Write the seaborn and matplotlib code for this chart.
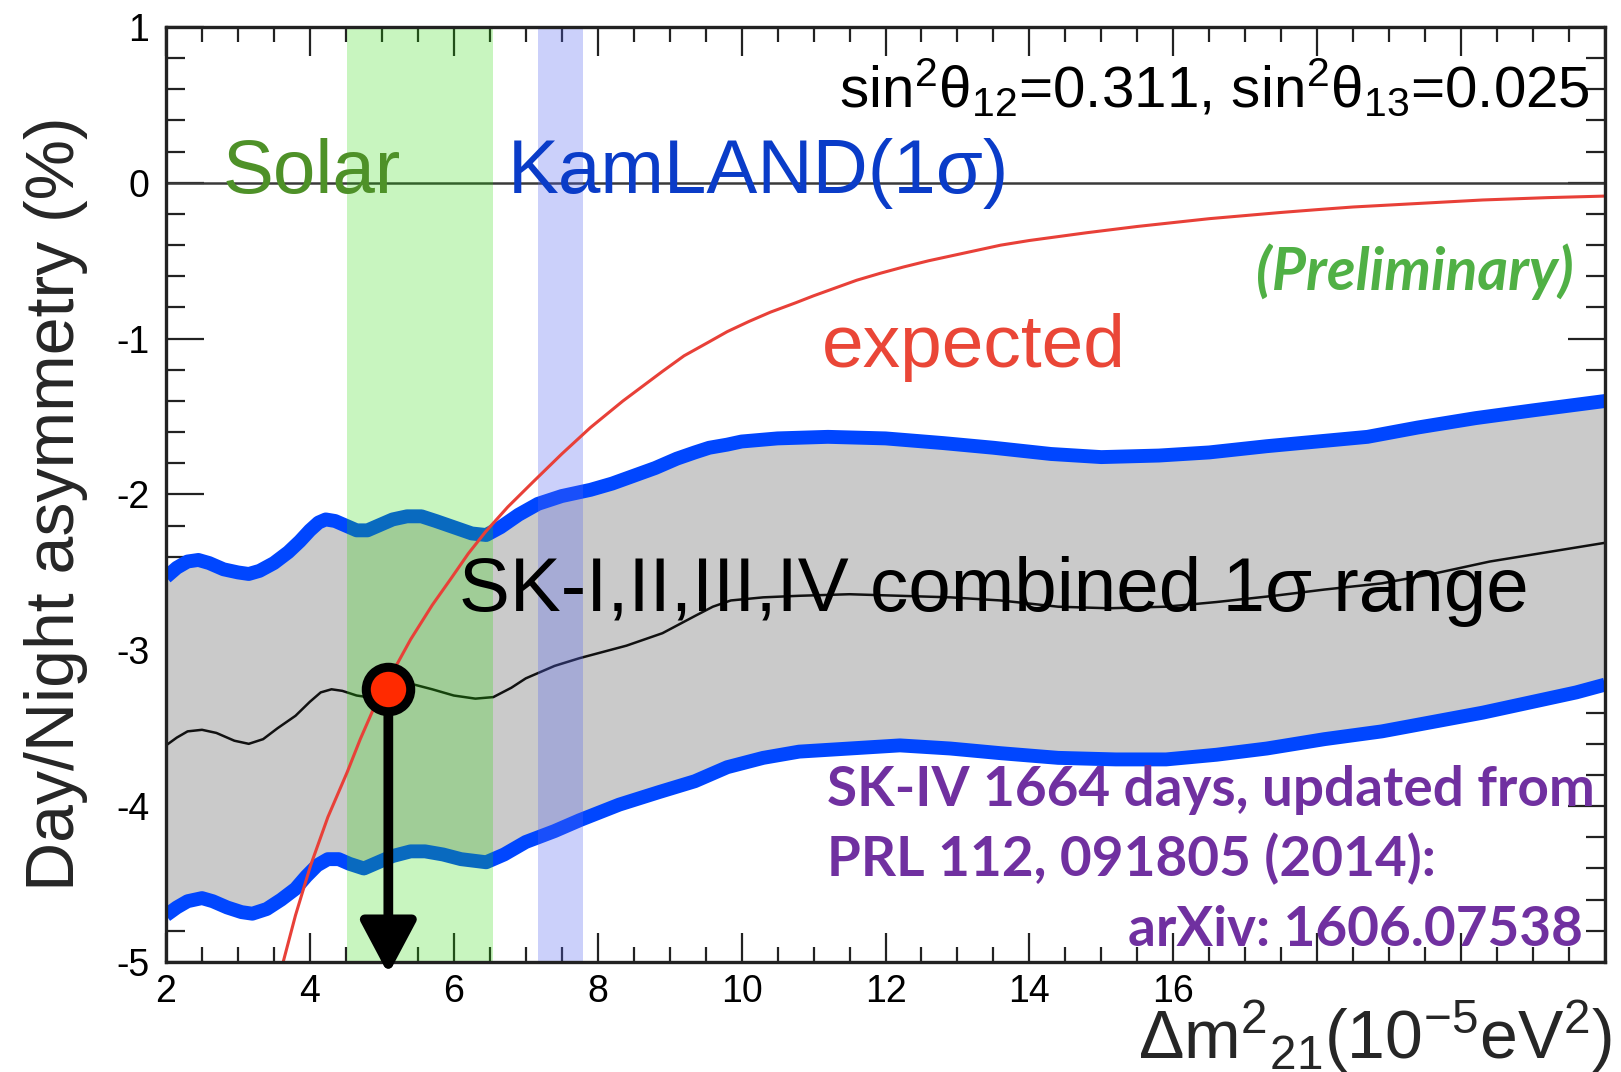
import numpy as np
import matplotlib
matplotlib.use("Agg")
import matplotlib.pyplot as plt
import seaborn as sns
from matplotlib.ticker import MultipleLocator

# ---------------- data ----------------
upper_x = [2.0, 2.15, 2.3, 2.45, 2.6, 2.8, 3.0, 3.15, 3.3, 3.5, 3.7, 3.86, 4.0, 4.12, 4.22,
           4.35, 4.5, 4.65, 4.8, 4.95, 5.15, 5.35, 5.55, 5.75, 6.0, 6.25, 6.45, 6.65, 6.9,
           7.17, 7.5, 7.9, 8.2, 8.5, 8.8, 9.1, 9.35, 9.55, 9.8, 10.0, 10.5, 11.2, 12.0,
           12.8, 13.5, 14.3, 15.0, 15.8, 16.5, 17.3, 18.0, 18.7, 19.4, 20.2, 21.0, 21.5, 22.0]
upper_y = [-2.53, -2.47, -2.43, -2.42, -2.44, -2.48, -2.50, -2.51, -2.49, -2.44, -2.37, -2.30,
           -2.23, -2.18, -2.16, -2.17, -2.20, -2.23, -2.23, -2.20, -2.16, -2.14, -2.14, -2.17,
           -2.21, -2.25, -2.26, -2.21, -2.13, -2.06, -2.01, -1.97, -1.93, -1.88, -1.83, -1.77,
           -1.73, -1.70, -1.68, -1.66, -1.64, -1.63, -1.64, -1.67, -1.70, -1.74, -1.76, -1.75,
           -1.73, -1.69, -1.66, -1.63, -1.57, -1.51, -1.46, -1.43, -1.40]

lower_x = [2.0, 2.15, 2.3, 2.5, 2.65, 2.85, 3.05, 3.2, 3.4, 3.6, 3.8, 3.95, 4.1, 4.25, 4.4,
           4.55, 4.75, 4.95, 5.15, 5.4, 5.6, 5.85, 6.1, 6.45, 6.7, 7.0, 7.4, 7.75, 8.3, 8.85,
           9.35, 9.8, 10.3, 10.8, 11.5, 12.2, 12.9, 13.6, 14.4, 15.2, 15.9, 16.6, 17.3, 18.1,
           18.9, 19.6, 20.3, 21.0, 21.6, 22.0]
lower_y = [-4.70, -4.65, -4.61, -4.59, -4.61, -4.65, -4.68, -4.69, -4.66, -4.60, -4.53, -4.45,
           -4.38, -4.34, -4.34, -4.37, -4.40, -4.36, -4.32, -4.29, -4.29, -4.31, -4.34, -4.36,
           -4.31, -4.23, -4.16, -4.09, -3.99, -3.91, -3.84, -3.75, -3.69, -3.65, -3.63, -3.61,
           -3.63, -3.66, -3.69, -3.70, -3.70, -3.67, -3.63, -3.57, -3.52, -3.46, -3.40, -3.33,
           -3.27, -3.22]

center_x = [2.0, 2.15, 2.3, 2.5, 2.7, 2.95, 3.15, 3.35, 3.55, 3.8, 4.0, 4.15, 4.3, 4.45,
            4.65, 4.8, 5.0, 5.2, 5.45, 5.7, 6.0, 6.3, 6.55, 6.8, 7.0, 7.4, 7.75, 8.4, 8.9,
            9.35, 9.6, 9.85, 10.3, 10.8, 11.5, 12.2, 12.9, 13.6, 14.4, 15.1, 15.9, 16.6, 17.4,
            18.1, 18.9, 19.6, 20.4, 21.2, 22.0]
center_y = [-3.61, -3.56, -3.52, -3.51, -3.53, -3.58, -3.60, -3.57, -3.50, -3.42, -3.33,
            -3.27, -3.25, -3.26, -3.29, -3.30, -3.27, -3.24, -3.22, -3.25, -3.29, -3.31,
            -3.30, -3.24, -3.18, -3.10, -3.05, -2.97, -2.89, -2.78, -2.72, -2.68, -2.66,
            -2.65, -2.64, -2.65, -2.66, -2.68, -2.72, -2.73, -2.72, -2.69, -2.65, -2.61,
            -2.57, -2.51, -2.43, -2.37, -2.31]

expected_x = [3.6, 3.8, 4.01, 4.25, 4.52, 4.7, 4.88, 5.15, 5.40, 5.70, 5.96, 6.2, 6.44, 6.75,
              7.1, 7.5, 7.9, 8.35, 8.9, 9.2, 9.55, 9.8, 10.1, 10.4, 10.75, 11.0, 11.3, 11.6,
              11.93, 12.25, 12.6, 12.9, 13.2, 13.6, 14.0, 14.4, 14.8, 15.5, 16.0, 16.5, 17.0,
              17.5, 18.0, 18.5, 19.5, 20.3, 21.2, 22.0]
expected_y = [-5.05, -4.70, -4.38, -4.07, -3.78, -3.57, -3.38, -3.14, -2.93, -2.71, -2.54,
              -2.38, -2.24, -2.08, -1.92, -1.74, -1.57, -1.40, -1.21, -1.11, -1.02, -0.955,
              -0.89, -0.83, -0.77, -0.725, -0.675, -0.625, -0.58, -0.54, -0.50, -0.47, -0.44,
              -0.40, -0.37, -0.345, -0.32, -0.28, -0.255, -0.23, -0.21, -0.19, -0.172, -0.155,
              -0.13, -0.11, -0.095, -0.085]

best_fit = (5.09, -3.25)
solar_range = (4.52, 6.54)
kamland_range = (7.17, 7.79)

x_ticks = [2, 4, 6, 8, 10, 12, 14, 16, 18, 20, 22]
x_tick_labels = ["2", "4", "6", "8", "10", "12", "14", "16", "", "", ""]
y_ticks = [-5, -4, -3, -2, -1, 0, 1]
y_tick_labels = ["-5", "-4", "-3", "-2", "-1", "0", "1"]

# ---------------- style ----------------
sns.set_theme(style="ticks")
plt.rcParams["font.family"] = ["Liberation Sans", "DejaVu Sans"]
plt.rcParams["mathtext.fontset"] = "custom"
plt.rcParams["mathtext.rm"] = "Liberation Sans"
plt.rcParams["mathtext.it"] = "Liberation Sans:italic"
plt.rcParams["mathtext.bf"] = "Liberation Sans:bold"
plt.rcParams["axes.unicode_minus"] = False

W, H = 1621, 1072
fig = plt.figure(figsize=(W / 100, H / 100), dpi=100)
L, R, T, B = 166, 1605, 27, 962
ax = fig.add_axes([L / W, 1 - B / H, (R - L) / W, (B - T) / H])
ax.set_facecolor("white")

# gray 1 sigma range
ax.fill(np.r_[upper_x, lower_x[::-1]], np.r_[upper_y, lower_y[::-1]],
        color="#cacaca", lw=0, zorder=1)

ax.axhline(0, color="#3a3a3a", lw=1.8, zorder=2)

blue = "#0046ff"
line_kw = dict(sort=False, estimator=None, solid_joinstyle="round", solid_capstyle="butt")
sns.lineplot(x=upper_x, y=upper_y, ax=ax, color=blue, lw=10, zorder=2.2, **line_kw)
sns.lineplot(x=lower_x, y=lower_y, ax=ax, color=blue, lw=10, zorder=2.2, **line_kw)
sns.lineplot(x=center_x, y=center_y, ax=ax, color="#111111", lw=1.8, zorder=2.3, **line_kw)

# allowed regions
ax.axvspan(*solar_range, color=(36 / 255, 216 / 255, 0), alpha=0.25, lw=0, zorder=4)
ax.axvspan(*kamland_range, color=(84 / 255, 100 / 255, 240 / 255), alpha=0.30, lw=0, zorder=4)

sns.lineplot(x=expected_x, y=expected_y, ax=ax, color="#e84038", lw=2.2, zorder=5, **line_kw)

# best fit marker with arrow
ax.annotate("", xy=(best_fit[0], -0.013), xycoords=("data", "axes fraction"),
            xytext=best_fit, textcoords="data",
            arrowprops=dict(arrowstyle="-|>,head_length=1.6,head_width=0.85",
                            color="black", lw=7, shrinkA=0, shrinkB=0,
                            mutation_scale=20),
            annotation_clip=False, zorder=7)
ax.plot([best_fit[0]], [best_fit[1]], marker="o", ms=32, mfc="#ff2a00", mec="black",
        mew=6.5, ls="none", zorder=8, clip_on=False)

# axes
ax.set_xlim(2, 22)
ax.set_ylim(-5, 1)
ax.set_xticks(x_ticks)
ax.set_xticklabels(x_tick_labels)
ax.set_yticks(y_ticks)
ax.set_yticklabels(y_tick_labels)
ax.xaxis.set_minor_locator(MultipleLocator(0.5))
ax.yaxis.set_minor_locator(MultipleLocator(0.2))
ax.tick_params(which="both", direction="in", top=True, right=True, colors="#222222",
               width=1.6, labelsize=27, labelcolor="black")
ax.tick_params(axis="x", which="major", length=21, pad=9)
ax.tick_params(axis="x", which="minor", length=11)
ax.tick_params(axis="y", which="major", length=27, pad=12)
ax.tick_params(axis="y", which="minor", length=14)
for s in ax.spines.values():
    s.set_linewidth(2.4)
    s.set_color("#222222")
    s.set_zorder(6)

ax.set_ylabel("Day/Night asymmetry (%)", fontsize=49)
ax.yaxis.set_label_coords((88 - L) / (R - L), 0.49)
ax.set_xlabel(r"Δm$^{2}$$_{21}$(10$^{-5}$eV$^{2}$)", fontsize=49, ha="right", va="baseline")
ax.xaxis.set_label_coords((1612 - L) / (R - L), -(1059 - B) / (B - T))

# annotations
ax.text(2.78, -0.064, "Solar", color="#4e9128", fontsize=55, ha="left", va="baseline", zorder=9)
ax.text(6.75, -0.064, "KamLAND(1σ)", color="#0a3cc8", fontsize=55, ha="left",
        va="baseline", zorder=9)
ax.text(21.79, 0.487, r"sin$^{2}$θ$_{12}$=0.311, sin$^{2}$θ$_{13}$=0.025", color="black",
        fontsize=42, ha="right", va="baseline", zorder=9)
ax.text(21.57, -0.686, "(Preliminary)", color="#50b045", fontsize=42.5, fontfamily="Lato",
        fontweight="bold", fontstyle="italic", ha="right", va="baseline", zorder=9)
ax.text(11.11, -1.18, "expected", color="#ea4637", fontsize=54, ha="left", va="baseline",
        zorder=9)
ax.text(6.07, -2.75, "SK-I,II,III,IV combined 1σ range", color="black", fontsize=55,
        ha="left", va="baseline", zorder=9)
purple = "#7030a0"
ax.text(11.19, -4.0, "SK-IV 1664 days, updated from", color=purple, fontsize=39.5,
        fontfamily="Lato", fontweight="bold", ha="left", va="baseline", zorder=9)
ax.text(11.19, -4.45, "PRL 112, 091805 (2014):", color=purple, fontsize=39.5,
        fontfamily="Lato", fontweight="bold", ha="left", va="baseline", zorder=9)
ax.text(21.69, -4.90, "arXiv: 1606.07538", color=purple, fontsize=39.5,
        fontfamily="Lato", fontweight="bold", ha="right", va="baseline", zorder=9)

fig.savefig("out.png", dpi=100)
